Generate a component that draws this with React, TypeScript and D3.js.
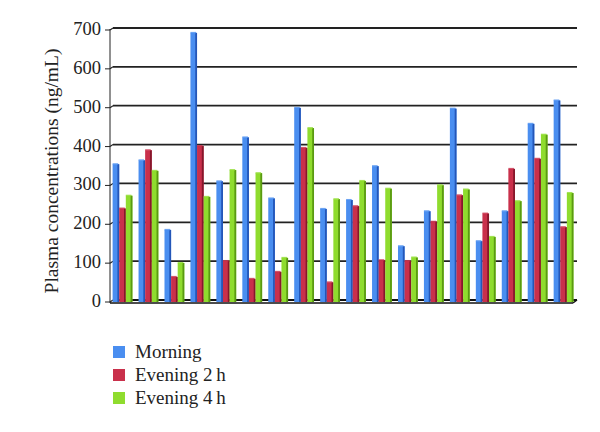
import React from "react";
import * as d3 from "d3";

const subjects = ["1","2","3","4","5","6","7","8","9","10","11","12","13","14","15","16","17","18"];
const morning = [352, 362, 183, 690, 308, 421, 264, 497, 237, 260, 347, 141, 231, 495, 154, 231, 456, 516];
const evening2h = [238, 388, 62, 399, 103, 57, 75, 394, 48, 244, 105, 103, 204, 272, 225, 340, 366, 190];
const evening4h = [271, 335, 98, 268, 337, 329, 111, 445, 262, 309, 289, 112, 298, 287, 165, 257, 428, 278];
const seriesNames = ["Morning", "Evening 2\u2009h", "Evening 4\u2009h"];
const yTicks = [0, 100, 200, 300, 400, 500, 600, 700];

const fills = ["#4a8ef0", "#c9304b", "#8fdc2e"];
const sides = ["#2456b8", "#85172b", "#5a9a12"];

export default function App() {
  const W = 600, H = 432;
  const left = 110, right = 577, top = 29, bottom = 301;
  const x = d3.scaleBand<string>().domain(subjects).range([left, right]).paddingInner(0).paddingOuter(0);
  const y = d3.scaleLinear().domain([0, 700]).range([bottom, top]);
  const series = [morning, evening2h, evening4h];
  const bw = 6.6;
  const font = "'Liberation Serif', 'Times New Roman', serif";

  return (
    <svg width={W} height={H} style={{ position: "absolute", left: 0, top: 0, background: "#fff" }}>
      <line x1={left} x2={left} y1={y(700)} y2={bottom + 2} stroke="#222" strokeWidth={1} />
      {yTicks.map((t) => (
        <g key={t}>
          <line x1={left - 5} x2={left} y1={y(t) + 1} y2={y(t) + 1} stroke="#222" strokeWidth={1} />
          <line x1={left} x2={left + 3} y1={y(t) + 1} y2={y(t) - 1} stroke="#222" strokeWidth={1.2} />
          <line x1={left + 3} x2={right} y1={y(t) - 1} y2={y(t) - 1} stroke={t === 0 ? "#111" : "#222"} strokeWidth={1.8} />
          <text x={left - 9} y={y(t) + 6} textAnchor="end" fontFamily={font} fontSize={18.5} fill="#222">{t}</text>
        </g>
      ))}
      <line x1={left} x2={right - 4} y1={bottom + 2} y2={bottom + 2} stroke="#111" strokeWidth={1.6} />
      <line x1={right - 4} x2={right} y1={bottom + 2} y2={bottom - 1} stroke="#111" strokeWidth={1.4} />
      {subjects.map((s, i) => {
        const x0 = (x(s) as number) + 2.6;
        return (
          <g key={s}>
            {series.map((arr, k) => {
              const v = arr[i];
              const bx = x0 + k * bw;
              const by = y(v);
              const h = bottom + 1 - by;
              return (
                <g key={k}>
                  <rect x={bx} y={by} width={bw} height={h} fill={fills[k]} />
                  <rect x={bx + bw - 1.8} y={by} width={1.8} height={h} fill={sides[k]} />
                  <rect x={bx} y={by - 1} width={bw - 1} height={1.5} fill={fills[k]} opacity={0.8} />
                </g>
              );
            })}
          </g>
        );
      })}
      <text transform={`translate(58,171) rotate(-90)`} textAnchor="middle" fontFamily={font} fontSize={19.5} fill="#222">
        Plasma concentrations (ng/mL)
      </text>
      {seriesNames.map((n, k) => (
        <g key={n} transform={`translate(113,${346 + k * 23})`}>
          <rect x={0} y={0} width={12} height={12} fill={fills[k]} />
          <text x={22} y={12} fontFamily={font} fontSize={19} fill="#222">{n}</text>
        </g>
      ))}
    </svg>
  );
}
